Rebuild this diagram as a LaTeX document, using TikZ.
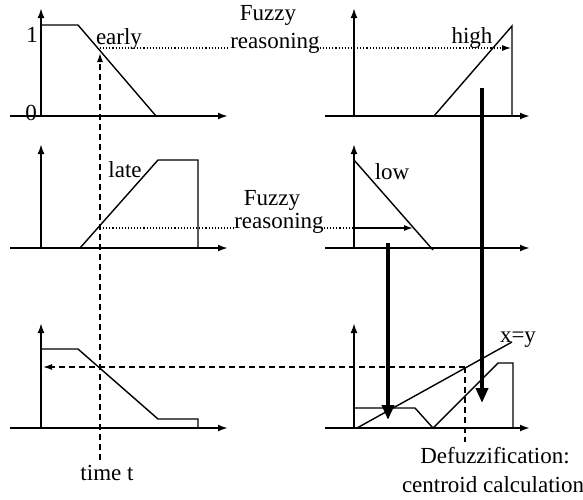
\documentclass[tikz,border=0pt]{standalone}
\usepackage{fontspec}
\setmainfont{Liberation Serif}
\usetikzlibrary{arrows.meta}
\begin{document}
\begin{tikzpicture}[x=1pt,y=-1pt,
    axis/.style={line width=2.4pt,-{Latex[length=10pt,width=7pt]}},
    curve/.style={line width=1.4pt},
    guide/.style={line width=1.3pt,dash pattern=on 6pt off 4pt},
    fuzzy/.style={line width=1.1pt,dotted},
    bigarrow/.style={line width=4.5pt,-{Triangle[length=15pt,width=12pt]}},
    lbl/.style={font=\fontsize{23}{26}\selectfont,inner sep=0pt,anchor=base}]
  \useasboundingbox (0,0) rectangle (583,499);
  % axes
  \foreach \oy/\top in {116/8,248/144,428/323} {
    \draw[axis] (10,\oy) -- (228,\oy);
    \draw[axis] (41,\oy) -- (41,\top);
    \draw[axis] (325,\oy) -- (530,\oy);
    \draw[axis] (354,\oy) -- (354,\top);
  }
  \node[lbl] (one) at (32,42) {1};
  \node[lbl] (zero) at (31,120) {0};
  % membership functions
  \draw[curve] (41,25) -- (78,25) -- (156,116);
  \draw[curve] (434,116) -- (512,26) -- (512,116);
  \draw[curve] (80,248) -- (158,160) -- (198,160) -- (198,248);
  \draw[curve] (354,160) -- (433,250);
  \node[lbl] (early) at (119,44) {early};
  \node[lbl] (high) at (472,43) {high};
  \node[lbl] (late) at (125,177) {late};
  \node[lbl] (low) at (392,179) {low};
  % output of the rules
  \draw[curve] (41,349) -- (78,349) -- (158,419) -- (198,419) -- (198,428);
  \draw[curve] (354,408) -- (415,408) -- (433,428) -- (498,363) -- (513,363) -- (513,428);
  \coordinate (xy0) at (357,428);
  \coordinate (xy1) at (512,342);
  \draw[curve] (xy0) -- (xy1);
  \node[lbl] (xylabel) at (518,342) {x=y};
  % time t
  \coordinate (t0) at (100,460);
  \coordinate (e1) at (100,50);
  \coordinate (l1) at (100,227);
  \draw[guide,-{Latex[length=9pt,width=6pt]}] (t0) -- (100,53);
  \node[lbl] (timet) at (107,480) {time t};
  % fuzzy reasoning
  \node[lbl] (fz1) at (268,20) {Fuzzy};
  \node[lbl] (rs1) at (275,48) {reasoning};
  \coordinate (h1) at (511,48);
  \draw[fuzzy] (e1 |- rs1.base) -- (rs1.base west);
  \draw[fuzzy,-{Latex[length=9pt,width=6pt]}] (rs1.base east) -- (h1);
  \node[lbl] (fz2) at (272,205) {Fuzzy};
  \node[lbl] (rs2) at (279,228) {reasoning};
  \coordinate (a2) at (354,228);
  \coordinate (w2) at (413,228);
  \draw[fuzzy] (l1 |- rs2.base) -- (rs2.base west);
  \draw[fuzzy] (rs2.base east) -- (a2);
  \draw[line width=1.3pt,-{Latex[length=9pt,width=6pt]}] (a2) -- (w2);
  % clipped results
  \coordinate (hs) at (482,88);
  \coordinate (he) at (482,403);
  \coordinate (ls) at (388,243);
  \coordinate (le) at (388,420);
  \draw[bigarrow] (hs) -- (he);
  \draw[bigarrow] (ls) -- (le);
  % defuzzification
  \coordinate (cg) at (465,367);
  \draw[guide,-{Latex[length=9pt,width=6pt]}] (cg) -- (43,367);
  \draw[guide] (cg) -- (465,442);
  \node[lbl] (dfz) at (495,463) {Defuzzification:};
  \node[lbl] (ctr) at (493,492) {centroid calculation};
\end{tikzpicture}
\end{document}
